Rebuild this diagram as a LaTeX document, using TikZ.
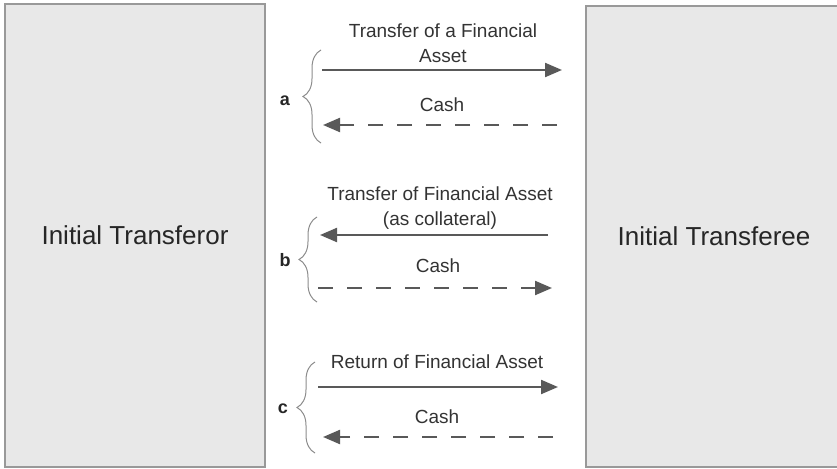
\documentclass[tikz,border=0pt]{standalone}
\usepackage{fontspec}
\setmainfont{Liberation Sans}
\usetikzlibrary{arrows.meta,decorations.pathreplacing,positioning}

\begin{document}
\begin{tikzpicture}[x=1pt,y=-1pt,
  party/.style={draw=black!40,line width=2pt,fill=black!9,text=black!85,font=\fontsize{26}{30}\selectfont},
  flowlabel/.style={anchor=base,align=center,text=black!80,font=\fontsize{19}{25}\selectfont},
  grouplabel/.style={text=black!85,font=\bfseries\fontsize{18}{22}\selectfont},
  solidflow/.style={draw=black!65,line width=2.2pt,-{Triangle[length=17pt,width=14pt]}},
  cashflow/.style={solidflow,dash pattern=on 15pt off 14pt},
  grouping/.style={draw=black!45,line width=1pt,decorate,decoration={brace,amplitude=18pt}}]
\useasboundingbox (0,0) rectangle (837,468);
\node[party,minimum width=260pt,minimum height=462pt] (tor) at (135,235.5) {Initial Transferor};
\node[party,minimum width=256pt,minimum height=460pt] (tee) at (714,236.5) {Initial Transferee};
% a
\coordinate (a1s) at (322,70);  \coordinate (a1e) at (562,70);
\coordinate (a2s) at (557,125); \coordinate (a2e) at (323,125);
\node[flowlabel] (a1lbl) at (443,63) {Transfer of a Financial\\Asset};
\node[flowlabel] (a2lbl) at (442,112) {Cash};
\draw[solidflow] (a1s) -- (a1e);
\draw[cashflow] (a2s) -- (a2e);
\draw[grouping] (321,143) -- (321,50);
\node[grouplabel] (a) at (285,101) {a};
% b
\coordinate (b1s) at (548,235); \coordinate (b1e) at (320,235);
\coordinate (b2s) at (318,288); \coordinate (b2e) at (552,288);
\node[flowlabel] (b1lbl) at (440,225) {Transfer of Financial Asset\\(as collateral)};
\node[flowlabel] (b2lbl) at (438,272) {Cash};
\draw[solidflow] (b1s) -- (b1e);
\draw[cashflow] (b2s) -- (b2e);
\draw[grouping] (317,302) -- (317,217);
\node[grouplabel] (b) at (285,260) {b};
% c
\coordinate (c1s) at (318,387); \coordinate (c1e) at (558,387);
\coordinate (c2s) at (553,437); \coordinate (c2e) at (323,437);
\node[flowlabel] (c1lbl) at (437,368) {Return of Financial Asset};
\node[flowlabel] (c2lbl) at (437,423) {Cash};
\draw[solidflow] (c1s) -- (c1e);
\draw[cashflow] (c2s) -- (c2e);
\draw[grouping] (315,453) -- (315,362);
\node[grouplabel] (c) at (283,409) {c};
\end{tikzpicture}
\end{document}
